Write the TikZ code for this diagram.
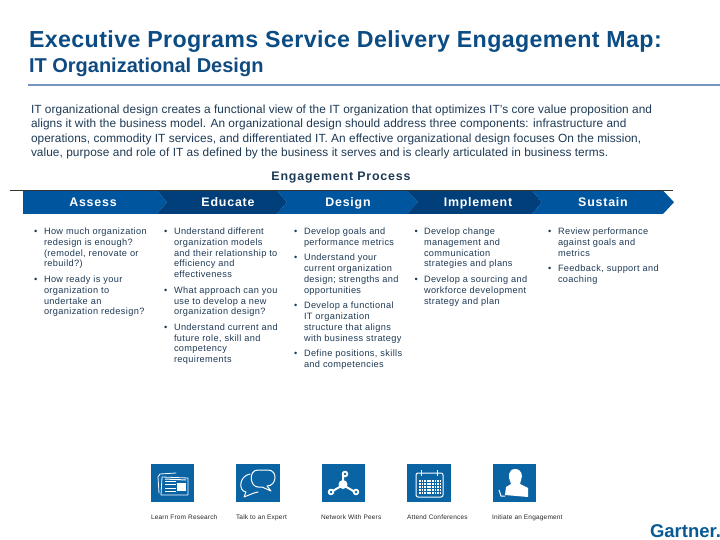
\documentclass[tikz,border=0pt]{standalone}
\usepackage{fontspec}
\setmainfont{Liberation Sans}
\definecolor{titleblue}{HTML}{0B4C85}
\definecolor{subblue}{HTML}{0F4A80}
\definecolor{rulecol}{HTML}{7395BF}
\definecolor{bodycol}{HTML}{1E3A55}
\definecolor{bandA}{HTML}{00559F}
\definecolor{bandB}{HTML}{003F7A}
\definecolor{iconblue}{HTML}{0A64A4}
\tikzset{
  every node/.style={inner sep=0pt,outer sep=0pt},
  titletext/.style={anchor=base west,text=titleblue,font=\fontsize{23.2}{26}\selectfont\bfseries\addfontfeatures{LetterSpace=1.7}},
  subtext/.style={anchor=base west,text=subblue,font=\fontsize{20}{22}\selectfont\bfseries},
  bodytext/.style={anchor=base west,text=bodycol,font=\fontsize{11.85}{14}\selectfont\addfontfeatures{LetterSpace=0.56}},
  headtext/.style={anchor=base,text=bodycol,font=\fontsize{12.4}{14}\selectfont\bfseries\addfontfeatures{LetterSpace=6.5}},
  bandtext/.style={anchor=base,text=white,font=\fontsize{12.4}{14}\selectfont\bfseries\addfontfeatures{LetterSpace=6.5}},
  itemtext/.style={anchor=base west,text=bodycol,font=\fontsize{9.2}{11}\selectfont\addfontfeatures{LetterSpace=4}},
  dotmark/.style={anchor=base west,text=bodycol,font=\fontsize{9.2}{11}\selectfont},
  iconbox/.style={fill=iconblue,draw=none},
  iconcap/.style={anchor=base west,text=black!85,font=\fontsize{6.5}{8}\selectfont\addfontfeatures{LetterSpace=3}},
  iconline/.style={draw=white,line width=1pt,line join=round,line cap=round},
}
\newcommand{\itemlines}[3]{% x, name prefix, list of y/text
  \foreach \yy/\tt [count=\n] in {#3}{\node[itemtext] (#2\n) at (#1,\yy) {\tt};}}
\begin{document}
\begin{tikzpicture}[x=1pt,y=-1pt]
\useasboundingbox (0,0) rectangle (720,540);
\fill[white] (0,0) rectangle (720,540);
% titles
\node[titletext] (title) at (29,48) {Executive Programs Service Delivery Engagement Map:};
\node[subtext] (subtitle) at (29,73) {IT Organizational Design};
\coordinate (ruleL) at (28,85); \coordinate (ruleR) at (720,85);
\draw[rulecol,line width=1.6pt] (ruleL) -- (ruleR);
% body
\node[bodytext] (b1) at (31,114) {IT organizational design creates a functional view of the IT organization that optimizes IT's core value proposition and};
\node[bodytext] (b2) at (31,128) {aligns it with the business model. An organizational design should address three components: infrastructure and};
\node[bodytext] (b3) at (31,143) {operations, commodity IT services, and differentiated IT. An effective organizational design focuses On the mission,};
\node[bodytext] (b4) at (31,157) {value, purpose and role of IT as defined by the business it serves and is clearly articulated in business terms.};
\node[headtext] (eng) at (341,180.5) {Engagement Process};
% band
\coordinate (lineL) at (10,190.3); \coordinate (lineR) at (673,190.3);
\fill[bandA] (23,190.5) -- (157,190.5) -- (167,202.2) -- (157,214) -- (23,214) -- cycle;
\fill[bandB] (157,190.5) -- (277,190.5) -- (287,202.2) -- (277,214) -- (157,214) -- (167,202.2) -- cycle;
\fill[bandA] (277,190.5) -- (407,190.5) -- (418,202.2) -- (407,214) -- (277,214) -- (287,202.2) -- cycle;
\fill[bandB] (407,190.5) -- (532,190.5) -- (542,202.2) -- (532,214) -- (407,214) -- (418,202.2) -- cycle;
\fill[bandA] (532,190.5) -- (663,190.5) -- (674,202.2) -- (663,214) -- (532,214) -- (542,202.2) -- cycle;
\draw[black!80,line width=0.5pt] (lineL) -- (lineR);
\node[bandtext] (h1) at (93,206.5) {Assess};
\node[bandtext] (h2) at (228,206.5) {Educate};
\node[bandtext] (h3) at (348,206.5) {Design};
\node[bandtext] (h4) at (478,206.5) {Implement};
\node[bandtext] (h5) at (603,206.5) {Sustain};
% column 1
\itemlines{44}{a}{234/How much organization,245/redesign is enough?,256/(remodel{,} renovate or,266.5/rebuild?),282.5/How ready is your,293.5/organization to,304/undertake an,314.5/organization redesign?}
\foreach \yy [count=\n] in {234,282.5}{\node[dotmark] (ad\n) at (34,\yy) {•};}
% column 2
\itemlines{174}{c}{234/Understand different,245/organization models,256/and their relationship to,266.5/efficiency and,277/effectiveness,293.5/What approach can you,304/use to develop a new,314.5/organization design?,330/Understand current and,341/future role{,} skill and,351.5/competency,362/requirements}
\foreach \yy [count=\n] in {234,293.5,330}{\node[dotmark] (cd\n) at (164,\yy) {•};}
% column 3
\itemlines{304}{d}{234/Develop goals and,245/performance metrics,260.5/Understand your,271.5/current organization,282.5/design; strengths and,293.5/opportunities,308.5/Develop a functional,319.5/IT organization,330.5/structure that aligns,341.5/with business strategy,356.5/Define positions{,} skills,367.5/and competencies}
\foreach \yy [count=\n] in {234,260.5,308.5,356.5}{\node[dotmark] (dd\n) at (294,\yy) {•};}
% column 4
\itemlines{424}{e}{234/Develop change,245/management and,256/communication,266.5/strategies and plans,282.5/Develop a sourcing and,293.5/workforce development,304/strategy and plan}
\foreach \yy [count=\n] in {234,282.5}{\node[dotmark] (ed\n) at (414.5,\yy) {•};}
% column 5
\itemlines{558}{f}{234/Review performance,245/against goals and,256/metrics,271.5/Feedback{,} support and,282.5/coaching}
\foreach \yy [count=\n] in {234,271.5}{\node[dotmark] (fd\n) at (548,\yy) {•};}
% icon 1: newspapers
\fill[iconbox] (151,464) rectangle (194,502);
\draw[iconline,line width=.8pt] (159,493) -- (158,477) -- (160,474) -- (176,473);
\draw[iconline,line width=.8pt] (161,495) -- (188,495) -- (188,478) -- (162,477) -- cycle;
\foreach \yy in {481,484.5,488,491.5}{\draw[white,line width=1pt] (165,\yy) -- (176,\yy);}
\fill[white] (177,483) rectangle (186,491);
\draw[white,line width=1pt] (165,479) -- (186,480);
% icon 2: speech bubbles
\fill[iconbox] (236,464) rectangle (280,502);
\draw[iconline,line width=1pt] (258,470) .. controls (248,470) and (250,487) .. (258,487) -- (262,487) -- (271,491) -- (267,486) .. controls (277,486) and (278,470) .. (268,470) -- cycle;
\draw[iconline,line width=1pt] (250,474) .. controls (239,476) and (238,491) .. (246,492) -- (244,497) -- (254,493) -- (258,492);
% icon 3: network
\fill[iconbox] (322,464) rectangle (365,502);
\draw[white,line width=2pt] (343,475) -- (343,485) -- (331,492);
\draw[white,line width=2pt] (343,485) -- (355,492);
\fill[white] (343,484.5) circle (4.5);
\fill[white] (345,474) circle (3.3); \fill[iconblue] (345,474) circle (1.4);
\fill[white] (331,492) circle (3.3); \fill[iconblue] (331,492) circle (1.4);
\fill[white] (356,492) circle (3.3); \fill[iconblue] (356,492) circle (1.4);
% icon 4: calendar
\fill[iconbox] (407,464) rectangle (451,502);
\draw[iconline,line width=1pt,rounded corners=2pt] (416,473) rectangle (443,497);
\draw[white,line width=1pt] (421,470) -- (421,476);
\draw[white,line width=1pt] (437,470) -- (437,476);
\foreach \yy in {481,484,487,490,493}{\draw[white,line width=1.6pt,dash pattern=on 1.8pt off .8pt] (419,\yy) -- (440,\yy);}
% icon 5: person
\fill[iconbox] (493,464) rectangle (536,502);
\fill[white] (515,469) .. controls (508,469) and (508,478) .. (510,481) -- (511,484) -- (506,487) -- (505,495) -- (528,497) -- (528,488) -- (520,484) -- (521,480) .. controls (523,476) and (522,469) .. (515,469) -- cycle;
\draw[white,line width=1pt] (499,490) -- (501,496) -- (505,496);
% icon captions
\node[iconcap] (l1) at (151,519) {Learn From Research};
\node[iconcap] (l2) at (236,519) {Talk to an Expert};
\node[iconcap] (l3) at (321,519) {Network With Peers};
\node[iconcap] (l4) at (407,519) {Attend Conferences};
\node[iconcap] (l5) at (492,519) {Initiate an Engagement};
% logo
\node[anchor=base west,text=iconblue!90!black,font=\fontsize{18.5}{20}\selectfont\bfseries] (logo) at (650,537) {Gartner.};
\end{tikzpicture}
\end{document}
